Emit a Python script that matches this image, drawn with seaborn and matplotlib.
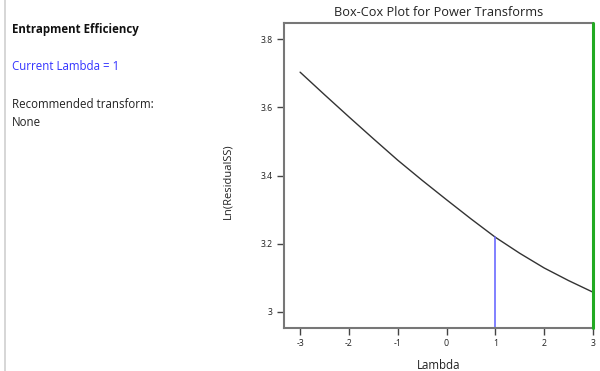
import matplotlib
matplotlib.use("Agg")
import matplotlib.pyplot as plt
import seaborn as sns
import pandas as pd

# Box-Cox curve: lambda vs ln(residual SS)
lambdas = [-3.0, -2.5, -2.0, -1.5, -1.0, -0.5, 0.0, 0.5, 1.0, 1.5, 2.0, 2.5, 3.0]
ln_resid_ss = [3.703, 3.637, 3.572, 3.508, 3.445, 3.386, 3.329, 3.273, 3.219, 3.172, 3.129, 3.092, 3.058]

current_lambda = 1.0
best_lambda = 3.0
x_ticks = [-3, -2, -1, 0, 1, 2, 3]
y_ticks = [3.0, 3.2, 3.4, 3.6, 3.8]
y_tick_labels = ["3", "3.2", "3.4", "3.6", "3.8"]

sns.set_style("white")
plt.rcParams["font.family"] = ["Open Sans", "DejaVu Sans"]

fig = plt.figure(figsize=(6.0, 3.71), dpi=100)
ax = fig.add_axes([0.4733, 0.1159, 0.515, 0.822])

df = pd.DataFrame({"Lambda": lambdas, "LnRSS": ln_resid_ss})
sns.lineplot(data=df, x="Lambda", y="LnRSS", ax=ax, color="#333333", linewidth=1.0)

ax.set_xlim(-3.33, 3.0)
ax.set_ylim(2.953, 3.847)

# current lambda marker, from the axis up to the curve
cur_val = ln_resid_ss[lambdas.index(current_lambda)]
ax.plot([current_lambda, current_lambda], [2.953, cur_val], color="#6b6bff", linewidth=1.2)
# recommended lambda
ax.axvline(best_lambda, color="#22aa22", linewidth=2.2, zorder=5, clip_on=False)

ax.set_xticks(x_ticks)
ax.set_xticklabels([str(t) for t in x_ticks], fontsize=6.3)
ax.set_yticks(y_ticks)
ax.set_yticklabels(y_tick_labels, fontsize=6.3)
ax.tick_params(axis="both", direction="out", length=5, width=1.0, color="#444444",
               labelcolor="#222222", pad=3, bottom=True, left=True)

for side in ["left", "bottom", "top"]:
    ax.spines[side].set_color("#777777")
    ax.spines[side].set_linewidth(1.5)
ax.spines["right"].set_visible(False)

ax.set_xlabel("Lambda", fontsize=8.3, color="#222222")
ax.xaxis.set_label_coords(0.5, -0.103)
ax.set_ylabel("Ln(ResidualSS)", fontsize=8, color="#222222")
ax.yaxis.set_label_coords(-0.165, 0.482)
ax.set_title("Box-Cox Plot for Power Transforms", fontsize=9.2, color="#222222", pad=5)

# side panel
fig.add_artist(plt.Line2D([4.5 / 600, 4.5 / 600], [0, 1], color="#d0d0d0", linewidth=1.2,
                          transform=fig.transFigure))
fig.text(12 / 600, 1 - 29 / 371, "Entrapment Efficiency", fontsize=8.3, fontweight="bold",
         color="#111111", va="center", ha="left")
fig.text(12 / 600, 1 - 67 / 371, "Current Lambda = 1", fontsize=8.3, color="#3333ff",
         va="center", ha="left")
fig.text(12 / 600, 1 - 104 / 371, "Recommended transform:", fontsize=8.3, color="#222222",
         va="center", ha="left")
fig.text(12 / 600, 1 - 123 / 371, "None", fontsize=8.3, color="#222222",
         va="center", ha="left")

fig.savefig("out.png", dpi=100)
